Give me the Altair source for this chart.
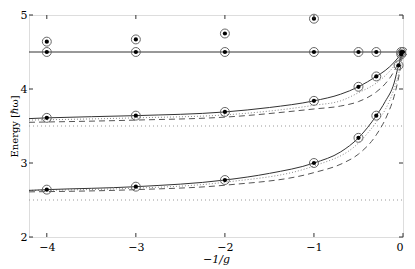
import altair as alt
import pandas as pd

# ---- data ----
x_ticks = [-4, -3, -2, -1, 0]
y_ticks = [2, 3, 4, 5]

# curves (x = -1/g)
mid_solid_x = [-4.2, -4, -3, -2, -1.5, -1, -0.7, -0.5, -0.3, -0.2, -0.1, -0.05, 0]
mid_solid_y = [3.60, 3.61, 3.64, 3.69, 3.75, 3.84, 3.93, 4.03, 4.17, 4.25, 4.36, 4.43, 4.5]
mid_dot_x = [-4.2, -3, -2, -1, -0.7, -0.5, -0.3, -0.2, -0.1, 0]
mid_dot_y = [3.58, 3.61, 3.65, 3.78, 3.84, 3.95, 4.08, 4.18, 4.31, 4.5]
mid_dash_x = [-4.2, -3, -2, -1, -0.7, -0.5, -0.3, -0.2, -0.1, 0]
mid_dash_y = [3.55, 3.58, 3.62, 3.73, 3.77, 3.83, 3.96, 4.07, 4.24, 4.5]

low_solid_x = [-4.2, -4, -3, -2, -1.5, -1, -0.7, -0.5, -0.3, -0.2, -0.1, -0.05, 0]
low_solid_y = [2.63, 2.64, 2.68, 2.77, 2.86, 3.00, 3.15, 3.34, 3.64, 3.83, 4.08, 4.32, 4.5]
low_dot_x = [-4.2, -3, -2, -1, -0.5, -0.3, -0.2, -0.1, -0.05, 0]
low_dot_y = [2.63, 2.66, 2.74, 2.96, 3.27, 3.55, 3.72, 4.00, 4.20, 4.5]
low_dash_x = [-4.2, -3, -2, -1, -0.67, -0.5, -0.3, -0.18, -0.1, -0.05, 0]
low_dash_y = [2.61, 2.64, 2.70, 2.87, 3.00, 3.12, 3.38, 3.64, 3.90, 4.15, 4.5]

flat_x = [-4.2, 0]
flat_y = [4.5, 4.5]
limit_x = [-4.2, 0]
limit_low = [2.5, 2.5]
limit_mid = [3.5, 3.5]

# points (open circle with a filled dot)
pts_flat_x = [-4, -3, -2, -1, -0.5, -0.3, -0.02, 0]
pts_flat_y = [4.5, 4.5, 4.5, 4.5, 4.5, 4.5, 4.5, 4.5]
pts_up_x = [-4, -3, -2, -1]
pts_up_y = [4.64, 4.67, 4.75, 4.95]
pts_mid_x = [-4, -3, -2, -1, -0.5, -0.3, -0.02]
pts_mid_y = [3.61, 3.64, 3.69, 3.84, 4.03, 4.17, 4.47]
pts_low_x = [-4, -3, -2, -1, -0.5, -0.3, -0.05]
pts_low_y = [2.64, 2.68, 2.77, 3.00, 3.34, 3.64, 4.32]

# ---- build tables ----
def curve(name, xs, ys):
    return pd.DataFrame({"x": xs, "y": ys, "c": name})

solid = pd.concat([curve("mid", mid_solid_x, mid_solid_y),
                   curve("low", low_solid_x, low_solid_y),
                   curve("flat", flat_x, flat_y)])
dotted = pd.concat([curve("mid", mid_dot_x, mid_dot_y),
                    curve("low", low_dot_x, low_dot_y)])
dashed = pd.concat([curve("mid", mid_dash_x, mid_dash_y),
                    curve("low", low_dash_x, low_dash_y)])
limits = pd.concat([curve("l25", limit_x, limit_low),
                    curve("l35", limit_x, limit_mid)])
points = pd.DataFrame({
    "x": pts_flat_x + pts_up_x + pts_mid_x + pts_low_x,
    "y": pts_flat_y + pts_up_y + pts_mid_y + pts_low_y,
})
xt = pd.DataFrame({"t": x_ticks})
yt = pd.DataFrame({"t": y_ticks})

FONT = "DejaVu Serif"
W, H = 374, 222

xs = alt.Scale(domain=[-4.2, 0], nice=False, zero=False)
ys = alt.Scale(domain=[2, 5], nice=False, zero=False)

X = alt.X("x:Q", scale=xs,
          axis=alt.Axis(values=x_ticks, format="d", title="−1/g", tickSize=0, labelPadding=4,
                        titlePadding=1, labelExpr="replace(datum.label, '-', '−')",
                        domain=False, grid=False, labelFontSize=11, titleFontSize=11,
                        titleFontWeight="normal", titleFontStyle="italic",
                        labelFont=FONT, titleFont=FONT, labelColor="black", titleColor="black"))
Y = alt.Y("y:Q", scale=ys,
          axis=alt.Axis(values=y_ticks, format="d", title="Energy [ℏω]", tickSize=0,
                        labelPadding=2, titlePadding=1, domain=False, grid=False,
                        labelFontSize=11, titleFontSize=10, titleFontWeight="normal",
                        labelFont=FONT, titleFont=FONT, labelColor="black", titleColor="black"))

base_solid = alt.Chart(solid).mark_line(color="#333333", strokeWidth=1, interpolate="monotone").encode(
    x=X, y=Y, detail="c:N")
base_dot = alt.Chart(dotted).mark_line(color="#888888", strokeWidth=1, strokeDash=[1, 2],
                                       interpolate="monotone").encode(
    x=alt.X("x:Q", scale=xs), y=alt.Y("y:Q", scale=ys), detail="c:N")
base_dash = alt.Chart(dashed).mark_line(color="#555555", strokeWidth=1, strokeDash=[6, 4],
                                        interpolate="monotone").encode(
    x=alt.X("x:Q", scale=xs), y=alt.Y("y:Q", scale=ys), detail="c:N")
base_lim = alt.Chart(limits).mark_line(color="#999999", strokeWidth=1, strokeDash=[1, 3]).encode(
    x=alt.X("x:Q", scale=xs), y=alt.Y("y:Q", scale=ys), detail="c:N")

rings = alt.Chart(points).mark_point(shape="circle", filled=False, size=80, color="#666666",
                                     strokeWidth=1, opacity=1).encode(
    x=alt.X("x:Q", scale=xs), y=alt.Y("y:Q", scale=ys))
dots = alt.Chart(points).mark_point(shape="circle", filled=True, size=18, color="black",
                                    opacity=1).encode(
    x=alt.X("x:Q", scale=xs), y=alt.Y("y:Q", scale=ys))

# inward tick marks on all four sides
tick_bot = alt.Chart(xt).mark_rule(color="#333333", strokeWidth=1).encode(
    x=alt.X("t:Q", scale=xs), y=alt.value(H - 4), y2=alt.value(H))
tick_top = alt.Chart(xt).mark_rule(color="#333333", strokeWidth=1).encode(
    x=alt.X("t:Q", scale=xs), y=alt.value(0), y2=alt.value(4))
tick_left = alt.Chart(yt).mark_rule(color="#333333", strokeWidth=1).encode(
    y=alt.Y("t:Q", scale=ys), x=alt.value(0), x2=alt.value(4))
tick_right = alt.Chart(yt).mark_rule(color="#333333", strokeWidth=1).encode(
    y=alt.Y("t:Q", scale=ys), x=alt.value(W - 4), x2=alt.value(W))

chart = alt.layer(base_lim, base_dash, base_dot, base_solid, rings, dots,
                  tick_bot, tick_top, tick_left, tick_right).properties(
    width=W, height=H,
    autosize=alt.AutoSizeParams(type="none"),
    padding={"left": 21, "top": 7, "right": 4, "bottom": 30}
).configure_view(stroke="black", strokeWidth=1.5).configure(background="white")

chart.save("out.html", embed_options={"renderer": "svg", "actions": False})
